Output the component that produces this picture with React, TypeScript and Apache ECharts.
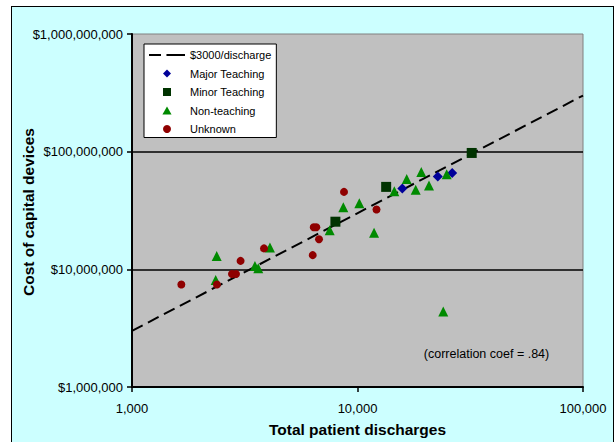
import React, { useRef, useEffect } from "react";
import * as echarts from "echarts";

const lineName = "$3000/discharge";
const lineX = [1000, 100000];
const lineY = [3000000, 300000000];

const majorX = [15800, 22700, 26300];
const majorY = [48600000, 61400000, 66000000];

const minorX = [7980, 13400, 32100];
const minorY = [25400000, 50200000, 97500000];

const nonX = [2375, 2350, 3510, 3630, 4090, 7530, 8650, 10190, 11840, 14560, 16530, 18120, 19180, 20750, 24860, 24010];
const nonY = [12960000, 8110000, 10670000, 10200000, 15360000, 21530000, 33730000, 36460000, 20460000, 46100000, 58700000, 47350000, 67300000, 51500000, 64200000, 4380000];

const unkX = [1655, 2380, 3030, 2776, 2892, 3850, 6395, 6565, 6750, 6330, 8710, 12140];
const unkY = [7420000, 7420000, 11800000, 9120000, 9120000, 15070000, 22800000, 22800000, 18000000, 13200000, 45500000, 32200000];

const xTitle = "Total patient discharges";
const yTitle = "Cost of capital devices";
const note = "(correlation coef = .84)";

const FONT = "'Liberation Sans', Arial, sans-serif";

const zip = (xs: number[], ys: number[]) => xs.map((x, i) => [x, ys[i]]);
const fmt = (v: number) => Math.round(v).toLocaleString("en-US");

const ICON_LINE = "path://M0,0h11v2h-11zM16,0h17v2h-17z";
const ICON_DIAMOND = "path://M4,0L8,4L4,8L0,4Z";
const ICON_SQUARE = "path://M0,0h8v8h-8z";
const ICON_TRIANGLE = "path://M4,0L8,7L0,7Z";
const ICON_CIRCLE = "circle";

export default function App() {
  const ref = useRef<HTMLDivElement>(null);
  useEffect(() => {
    if (!ref.current) return;
    const chart = echarts.init(ref.current, null, { renderer: "svg" });
    chart.setOption({
      animation: false,
      textStyle: { fontFamily: FONT },
      grid: {
        left: 132,
        right: 32,
        top: 34,
        bottom: 53,
        show: true,
        backgroundColor: "#C0C0C0",
        borderColor: "#808080",
        borderWidth: 1,
      },
      legend: {
        orient: "vertical",
        left: 144,
        top: 44,
        padding: [4.5, 5, 2, 5],
        itemGap: 5.5,
        itemWidth: 36,
        itemHeight: 8,
        symbolKeepAspect: true,
        backgroundColor: "#FFFFFF",
        borderColor: "#000000",
        borderWidth: 1,
        borderRadius: 0,
        textStyle: { fontFamily: FONT, fontSize: 11, color: "#000", lineHeight: 13 },
        data: [
          { name: lineName, icon: ICON_LINE },
          { name: "Major Teaching", icon: ICON_DIAMOND },
          { name: "Minor Teaching", icon: ICON_SQUARE },
          { name: "Non-teaching", icon: ICON_TRIANGLE },
          { name: "Unknown", icon: ICON_CIRCLE, itemStyle: {} },
        ],
      },
      xAxis: {
        type: "log",
        logBase: 10,
        min: 1000,
        max: 100000,
        name: xTitle,
        nameLocation: "middle",
        nameGap: 34,
        nameTextStyle: { fontFamily: FONT, fontSize: 15.5, fontWeight: "bold", color: "#000" },
        axisLine: { show: true, onZero: false, lineStyle: { color: "#000", width: 2 } },
        axisTick: { show: true, inside: false, length: 5, lineStyle: { color: "#000", width: 1.5 } },
        axisLabel: { margin: 15, fontFamily: FONT, fontSize: 13, color: "#000", formatter: (v: number) => fmt(v) },
        splitLine: { show: false },
      },
      yAxis: {
        type: "log",
        logBase: 10,
        min: 1000000,
        max: 1000000000,
        axisLine: { show: true, onZero: false, lineStyle: { color: "#000", width: 2 } },
        axisTick: { show: true, inside: false, length: 5, lineStyle: { color: "#000", width: 1.5 } },
        axisLabel: { margin: 9, fontFamily: FONT, fontSize: 13, color: "#000", formatter: (v: number) => "$" + fmt(v) },
        splitLine: { show: true, showMinLine: false, showMaxLine: false, lineStyle: { color: "#000", width: 1.5 } },
      },
      graphic: [
        {
          type: "text",
          x: 28,
          y: 212,
          rotation: Math.PI / 2,
          style: {
            text: yTitle,
            fontFamily: FONT,
            fontSize: 15.5,
            fontWeight: "bold",
            fill: "#000",
            textAlign: "center",
            textVerticalAlign: "middle",
          },
        },
        {
          type: "text",
          x: 486.5,
          y: 354,
          style: {
            text: note,
            fontFamily: FONT,
            fontSize: 12.5,
            fill: "#000",
            textAlign: "center",
            textVerticalAlign: "middle",
          },
        },
      ],
      series: [
        {
          name: lineName,
          type: "line",
          data: zip(lineX, lineY),
          symbol: "none",
          z: 1,
          lineStyle: { color: "#000", width: 2, type: [12, 6] },
          itemStyle: { color: "#000" },
        },
        {
          name: "Major Teaching",
          type: "scatter",
          data: zip(majorX, majorY),
          symbol: "diamond",
          symbolSize: 10,
          z: 3,
          itemStyle: { color: "#000099", opacity: 1 },
        },
        {
          name: "Minor Teaching",
          type: "scatter",
          data: zip(minorX, minorY),
          symbol: "rect",
          symbolSize: 10,
          z: 3,
          itemStyle: { color: "#003300", opacity: 1 },
        },
        {
          name: "Non-teaching",
          type: "scatter",
          data: zip(nonX, nonY),
          symbol: "triangle",
          symbolSize: 10,
          z: 3,
          itemStyle: { color: "#008A00", opacity: 1 },
        },
        {
          name: "Unknown",
          type: "scatter",
          data: zip(unkX, unkY),
          symbol: "circle",
          symbolSize: 8,
          z: 3,
          itemStyle: { color: "#8F0000", opacity: 1 },
        },
      ],
    });
    return () => chart.dispose();
  }, []);

  return (
    <div style={{ position: "fixed", left: 0, top: 0, width: 615, height: 442, background: "#FFFFFF", overflow: "hidden" }}>
      <div
        style={{
          position: "absolute",
          left: 11,
          top: 6,
          width: 603,
          height: 460,
          background: "#CCFFFF",
          border: "1.5px solid #000",
          boxSizing: "border-box",
        }}
      />
      <div ref={ref} style={{ position: "absolute", left: 0, top: 0, width: 615, height: 442 }} />
    </div>
  );
}
